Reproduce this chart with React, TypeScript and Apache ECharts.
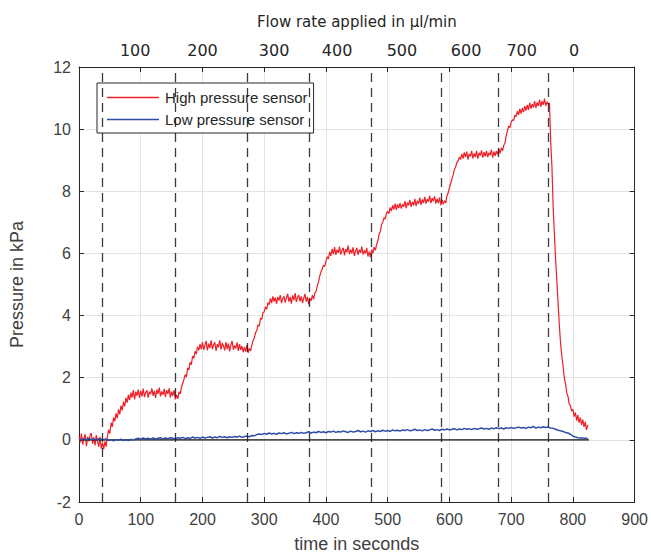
import React, { useEffect, useRef } from "react";
import * as echarts from "echarts";

// sampling interval (seconds) of each sensor trace
const HIGH_STEP = 2;
const LOW_STEP = 4;

// High pressure sensor, kPa, t = 0, 2, 4, ... 824 s (one row = 20 s)
const highPressure = [
  0.12, -0.08, 0.2, -0.15, 0.05, 0.18, -0.2, 0.1, -0.05, 0.15,
  0.22, -0.12, 0.08, -0.18, 0.15, -0.05, -0.22, 0.1, -0.28, -0.1,
  -0.3, -0.05, -0.22, 0.1, 0.32, 0.2, 0.55, 0.42, 0.72, 0.6,
  0.85, 0.7, 0.98, 0.82, 1.1, 0.95, 1.22, 1.08, 1.35, 1.2,
  1.45, 1.28, 1.52, 1.36, 1.6, 1.3, 1.55, 1.42, 1.62, 1.35,
  1.58, 1.4, 1.65, 1.38, 1.52, 1.6, 1.36, 1.55, 1.47, 1.66,
  1.42, 1.58, 1.35, 1.62, 1.48, 1.68, 1.4, 1.56, 1.45, 1.64,
  1.38, 1.6, 1.48, 1.66, 1.36, 1.55, 1.42, 1.6, 1.3, 1.45,
  1.32, 1.55, 1.48, 1.7, 1.82, 1.95, 2.1, 2.02, 2.32, 2.25,
  2.5, 2.42, 2.7, 2.62, 2.85, 2.76, 3.0, 2.88, 3.08, 2.92,
  3.15, 2.9, 3.05, 3.18, 2.88, 3.1, 2.95, 3.2, 2.92, 3.06,
  3.14, 2.86, 3.08, 2.98, 3.2, 2.9, 3.12, 3.02, 2.88, 3.15,
  2.92, 3.1, 2.85, 3.06, 3.18, 2.9, 3.04, 2.94, 3.14, 2.86,
  3.08, 2.9, 3.02, 2.82, 2.98, 2.84, 3.05, 2.8, 2.95, 2.86,
  3.05, 3.2, 3.28, 3.45, 3.52, 3.7, 3.66, 3.92, 3.88, 4.1,
  4.12, 4.28, 4.2, 4.42, 4.35, 4.55, 4.4, 4.62, 4.45, 4.58,
  4.38, 4.6, 4.48, 4.66, 4.4, 4.55, 4.62, 4.42, 4.58, 4.7,
  4.45, 4.6, 4.38, 4.65, 4.5, 4.72, 4.44, 4.58, 4.66, 4.46,
  4.62, 4.4, 4.56, 4.7, 4.45, 4.6, 4.36, 4.55, 4.48, 4.66,
  4.52, 4.72, 4.78, 4.95, 5.1, 5.28, 5.4, 5.5, 5.62, 5.58,
  5.75, 5.9, 5.82, 6.05, 5.92, 6.15, 5.98, 6.2, 5.95, 6.12,
  6.02, 6.22, 5.96, 6.1, 6.18, 5.94, 6.14, 6.04, 6.25, 5.98,
  6.12, 6.0, 6.2, 5.92, 6.08, 6.18, 5.95, 6.12, 6.02, 6.22,
  5.96, 6.1, 6.0, 6.18, 5.9, 6.06, 5.88, 6.12, 6.0, 6.2,
  6.1, 6.28, 6.4, 6.62, 6.7, 6.92, 7.0, 7.15, 7.1, 7.3,
  7.35, 7.28, 7.48, 7.36, 7.55, 7.42, 7.6, 7.4, 7.58, 7.46,
  7.62, 7.44, 7.58, 7.5, 7.68, 7.46, 7.64, 7.55, 7.72, 7.5,
  7.66, 7.55, 7.76, 7.52, 7.7, 7.6, 7.8, 7.56, 7.74, 7.62,
  7.82, 7.6, 7.75, 7.66, 7.85, 7.62, 7.78, 7.68, 7.84, 7.6,
  7.76, 7.62, 7.8, 7.55, 7.72, 7.58, 7.7, 7.62, 7.85, 7.95,
  8.12, 8.25, 8.4, 8.52, 8.7, 8.78, 8.92, 8.98, 9.1, 9.02,
  9.2, 9.05, 9.25, 9.1, 9.28, 9.02, 9.2, 9.12, 9.3, 9.06,
  9.22, 9.1, 9.3, 9.05, 9.24, 9.15, 9.32, 9.08, 9.26, 9.12,
  9.3, 9.1, 9.24, 9.16, 9.34, 9.08, 9.28, 9.14, 9.3, 9.18,
  9.36, 9.22, 9.4, 9.3, 9.48, 9.55, 9.8, 9.95, 10.1, 10.05,
  10.22, 10.3, 10.28, 10.45, 10.4, 10.58, 10.46, 10.65, 10.5, 10.68,
  10.55, 10.74, 10.6, 10.78, 10.62, 10.85, 10.66, 10.8, 10.7, 10.9,
  10.68, 10.86, 10.74, 10.95, 10.72, 10.9, 10.78, 10.98, 10.75, 10.88,
  10.8, 10.84, 9.6, 8.8, 7.5, 6.6, 5.8, 5.1, 4.4, 3.7,
  3.1, 2.7, 2.38, 2.0, 1.8, 1.52, 1.4, 1.15, 1.1, 0.92,
  0.98, 0.75, 0.88, 0.62, 0.8, 0.55, 0.72, 0.48, 0.65, 0.42,
  0.58, 0.32, 0.48,
];

// Low pressure sensor, kPa, t = 0, 4, 8, ... 824 s (one row = 40 s)
const lowPressure = [
  0.03, -0.01, 0.04, 0.0, 0.05, 0.01, 0.03, -0.02, 0.04, 0.02,
  0.01, 0.03, -0.02, 0.0, -0.03, 0.01, -0.01, 0.02, -0.02, 0.0,
  -0.02, 0.01, 0.0, 0.03, 0.05, 0.02, 0.06, 0.03, 0.05, 0.02,
  0.06, 0.03, 0.05, 0.07, 0.03, 0.06, 0.04, 0.07, 0.05, 0.03,
  0.07, 0.05, 0.08, 0.04, 0.07, 0.05, 0.09, 0.06, 0.08, 0.05,
  0.09, 0.06, 0.08, 0.1, 0.06, 0.09, 0.07, 0.11, 0.08, 0.1,
  0.07, 0.1, 0.08, 0.11, 0.09, 0.12, 0.08, 0.11, 0.12, 0.1,
  0.14, 0.13, 0.17, 0.19, 0.17, 0.21, 0.18, 0.22, 0.19, 0.21,
  0.18, 0.22, 0.2, 0.23, 0.19, 0.21, 0.24, 0.2, 0.23, 0.21,
  0.24, 0.21, 0.23, 0.26, 0.22, 0.25, 0.23, 0.27, 0.24, 0.26,
  0.23, 0.27, 0.25, 0.28, 0.24, 0.27, 0.25, 0.29, 0.26, 0.24,
  0.28, 0.25, 0.27, 0.3, 0.26, 0.28, 0.25, 0.29, 0.27, 0.3,
  0.26, 0.29, 0.27, 0.31, 0.28, 0.3, 0.27, 0.32, 0.29, 0.31,
  0.28, 0.32, 0.3, 0.33, 0.29, 0.31, 0.34, 0.3, 0.32, 0.29,
  0.33, 0.3, 0.32, 0.35, 0.31, 0.33, 0.3, 0.34, 0.32, 0.35,
  0.32, 0.34, 0.36, 0.32, 0.35, 0.33, 0.37, 0.34, 0.36, 0.33,
  0.37, 0.34, 0.36, 0.38, 0.35, 0.37, 0.34, 0.38, 0.36, 0.39,
  0.36, 0.38, 0.35, 0.39, 0.37, 0.4, 0.37, 0.39, 0.41, 0.38,
  0.4, 0.37, 0.41, 0.39, 0.43, 0.38, 0.41, 0.39, 0.42, 0.4,
  0.41, 0.38, 0.37, 0.34, 0.31, 0.29, 0.27, 0.24, 0.22, 0.18,
  0.12, 0.09, 0.07, 0.06, 0.06, 0.05, 0.04,
];

// times (s) at which the flow rate was switched (dashed lines)
const flowSwitchTimes = [38, 156, 272, 373, 474, 586, 679, 760];
// top-axis labels: applied flow rate and where they are centred (s)
const flowLabels = ["100", "200", "300", "400", "500", "600", "700", "0"];
const flowLabelTimes = [91, 200, 316, 418, 523, 627, 717, 802];
// span of the black zero reference line (s)
const zeroLineTimes = [0, 826];

const SANS = "Liberation Sans, Arial, Helvetica, sans-serif";
const DEJAVU = "DejaVu Sans, sans-serif";
const AXIS_COLOR = "#262626";
const TEXT_COLOR = "#404040";

export default function App() {
  const ref = useRef<HTMLDivElement>(null);

  useEffect(() => {
    if (!ref.current) return;
    const chart = echarts.init(ref.current, null, { renderer: "svg" });

    const highData = highPressure.map((v, i) => [i * HIGH_STEP, v]);
    const lowData = lowPressure.map((v, i) => [i * LOW_STEP, v]);
    const zeroData = zeroLineTimes.map((t) => [t, 0]);

    const axisLine = { show: true, onZero: false, lineStyle: { color: AXIS_COLOR, width: 1 } };
    const axisTick = { show: true, inside: true, length: 5, lineStyle: { color: AXIS_COLOR, width: 1 } };

    chart.setOption({
      animation: false,
      backgroundColor: "#ffffff",
      grid: { left: 79, right: 13, top: 67, bottom: 53, containLabel: false },
      legend: {
        data: ["High pressure sensor", "Low pressure sensor"],
        orient: "vertical",
        left: 97,
        top: 83,
        padding: [7, 6, 6, 10],
        itemGap: 7,
        itemWidth: 52,
        itemHeight: 1.5,
        icon: "rect",
        borderColor: AXIS_COLOR,
        borderWidth: 1,
        borderRadius: 0,
        backgroundColor: "#ffffff",
        textStyle: { fontSize: 15, fontFamily: SANS, color: AXIS_COLOR, padding: [0, 0, 0, 1] },
      },
      xAxis: [
        {
          type: "value",
          position: "bottom",
          min: 0,
          max: 900,
          interval: 100,
          axisLine,
          axisTick,
          axisLabel: { color: TEXT_COLOR, fontSize: 16, fontFamily: SANS, margin: 9 },
          splitLine: { show: true, lineStyle: { color: "#e3e3e3", width: 1 } },
          name: "time in seconds",
          nameLocation: "middle",
          nameGap: 33,
          nameTextStyle: { color: TEXT_COLOR, fontSize: 18, fontFamily: SANS },
        },
        {
          type: "value",
          position: "top",
          min: 0,
          max: 900,
          interval: 100,
          axisLine,
          axisTick,
          axisLabel: {
            customValues: flowLabelTimes,
            formatter: (v: number) => {
              const i = flowLabelTimes.indexOf(v);
              return i >= 0 ? flowLabels[i] : "";
            },
            color: AXIS_COLOR,
            fontSize: 16,
            fontFamily: DEJAVU,
            margin: 9,
          },
          splitLine: { show: false },
          name: "Flow rate applied in µl/min",
          nameLocation: "middle",
          nameGap: 38,
          nameTextStyle: { color: AXIS_COLOR, fontSize: 15, fontFamily: DEJAVU },
        },
      ],
      yAxis: [
        {
          type: "value",
          position: "left",
          min: -2,
          max: 12,
          interval: 2,
          axisLine,
          axisTick,
          axisLabel: { color: TEXT_COLOR, fontSize: 16, fontFamily: SANS, margin: 8 },
          splitLine: { show: true, lineStyle: { color: "#e3e3e3", width: 1 } },
          name: "Pressure in kPa",
          nameLocation: "middle",
          nameGap: 53,
          nameTextStyle: { color: TEXT_COLOR, fontSize: 18, fontFamily: SANS },
        },
        {
          type: "value",
          position: "right",
          min: -2,
          max: 12,
          interval: 2,
          axisLine,
          axisTick,
          axisLabel: { show: false },
          splitLine: { show: false },
        },
      ],
      series: [
        {
          name: "High pressure sensor",
          type: "line",
          xAxisIndex: 0,
          yAxisIndex: 0,
          data: highData,
          symbol: "none",
          color: "#ee1f26",
          lineStyle: { width: 1.2, color: "#ee1f26" },
          z: 2,
        },
        {
          name: "zero",
          type: "line",
          xAxisIndex: 0,
          yAxisIndex: 0,
          data: zeroData,
          symbol: "none",
          silent: true,
          color: "#111111",
          lineStyle: { width: 1.2, color: "#111111" },
          z: 3,
        },
        {
          name: "Low pressure sensor",
          type: "line",
          xAxisIndex: 0,
          yAxisIndex: 0,
          data: lowData,
          symbol: "none",
          color: "#2f4ea6",
          lineStyle: { width: 1.5, color: "#2f4ea6" },
          z: 4,
        },
        {
          name: "switch",
          type: "line",
          xAxisIndex: 0,
          yAxisIndex: 0,
          data: [],
          symbol: "none",
          silent: true,
          z: 5,
          markLine: {
            silent: true,
            symbol: ["none", "none"],
            label: { show: false },
            lineStyle: { color: "#1a1a1a", width: 1.3, type: [9, 6], opacity: 0.85 },
            data: flowSwitchTimes.map((t) => ({ xAxis: t })),
          },
        },
      ],
    });

    return () => chart.dispose();
  }, []);

  return (
    <div
      ref={ref}
      style={{ position: "fixed", left: 0, top: 0, width: 651, height: 558 }}
    />
  );
}
